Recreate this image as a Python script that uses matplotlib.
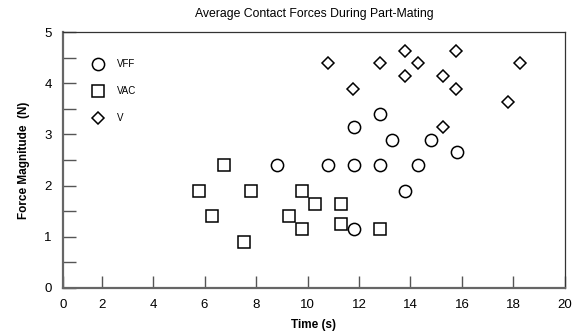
import matplotlib
matplotlib.use('Agg')
import matplotlib.pyplot as plt

plt.rcParams['font.family'] = ['Liberation Sans', 'DejaVu Sans']

# data
vff_t = [8.8, 10.8, 11.8, 11.8, 11.8, 12.8, 12.8, 13.3, 13.8, 14.3, 14.8, 15.8]
vff_f = [2.4, 2.4, 2.4, 3.15, 1.15, 2.4, 3.4, 2.9, 1.9, 2.4, 2.9, 2.65]

vac_t = [5.8, 6.3, 6.75, 7.55, 7.8, 9.3, 9.8, 9.8, 10.3, 11.3, 11.3, 12.8]
vac_f = [1.9, 1.4, 2.4, 0.9, 1.9, 1.4, 1.9, 1.15, 1.65, 1.65, 1.25, 1.15]

v_t = [10.8, 11.75, 12.8, 13.8, 13.8, 14.3, 15.25, 15.25, 15.75, 15.75, 17.8, 18.25]
v_f = [4.4, 3.88, 4.4, 4.63, 4.14, 4.4, 4.14, 3.15, 4.63, 3.88, 3.64, 4.4]

x_ticks = [0.5, 2, 4, 6, 8, 10, 12, 14, 16, 18, 20]
x_labels = ['0', '2', '4', '6', '8', '10', '12', '14', '16', '18', '20']
y_ticks = [0, 0.5, 1, 1.5, 2, 2.5, 3, 3.5, 4, 4.5, 5]
y_labels = ['0', '', '1', '', '2', '', '3', '', '4', '', '5']

fig = plt.figure(figsize=(5.83, 3.31), dpi=100)
ax = fig.add_axes([0.108, 0.130, 0.861, 0.773])

mkw = dict(linestyle='none', markerfacecolor='white', markeredgecolor='black',
           markeredgewidth=1.1, clip_on=False)
ax.plot(vff_t, vff_f, 'o', markersize=8.8, label='VFF', **mkw)
ax.plot(vac_t, vac_f, 's', markersize=8.8, label='VAC', **mkw)
ax.plot(v_t, v_f, 'D', markersize=6.2, label='V', **mkw)

ax.set_xlim(0.5, 20)
ax.set_ylim(0.05, 5)
ax.set_xticks(x_ticks)
ax.set_xticklabels(x_labels)
ax.set_yticks(y_ticks)
ax.set_yticklabels(y_labels)
ax.tick_params(direction='in', width=1, color='#555555', labelsize=9.5)
ax.tick_params(axis='x', length=8.5, pad=8)
ax.tick_params(axis='y', length=9.5, pad=8)

for s in ['left', 'bottom']:
    ax.spines[s].set_color('#666666')
    ax.spines[s].set_linewidth(1.6)
for s in ['top', 'right']:
    ax.spines[s].set_color('#333333')
    ax.spines[s].set_linewidth(0.9)

ax.set_title('Average Contact Forces During Part-Mating', fontsize=8.8, pad=11)
ax.set_xlabel('Time (s)', fontsize=8.5, fontweight='bold', labelpad=6)
ax.set_ylabel('Force Magnitude  (N)', fontsize=8.5, fontweight='bold', labelpad=10)

leg = ax.legend(loc='upper left', bbox_to_anchor=(0.05, 0.91), frameon=False,
                fontsize=7, labelspacing=1.75, handletextpad=1.4,
                handlelength=1.2, borderaxespad=0)

fig.savefig('out.png', dpi=100)
